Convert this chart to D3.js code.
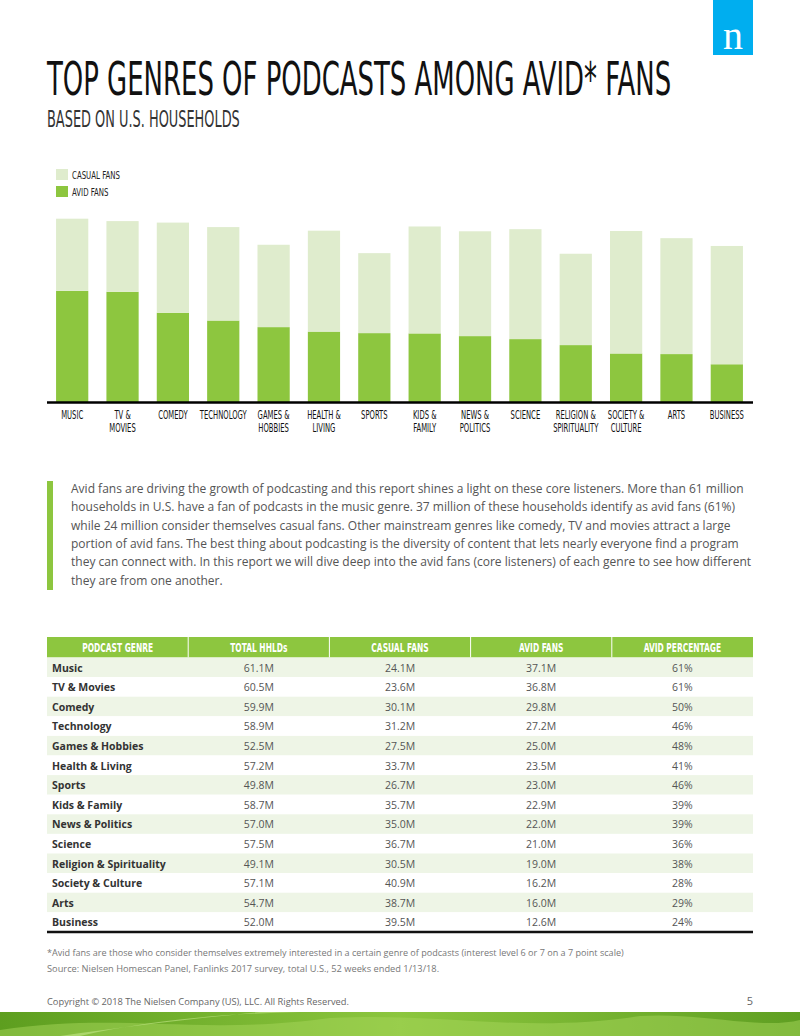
<!DOCTYPE html>
<html>
<head>
<meta charset="utf-8">
<script src="https://cdn.jsdelivr.net/npm/d3@7"></script>
<style>
body { margin: 0; background: #fff; }
</style>
</head>
<body>
<div id="chart"></div>
<script>
var W = 800, H = 1036

// data
var genres = ["Music", "TV & Movies", "Comedy", "Technology", "Games & Hobbies", "Health & Living", "Sports",
  "Kids & Family", "News & Politics", "Science", "Religion & Spirituality", "Society & Culture", "Arts", "Business"]
var axisLabels = [["MUSIC"], ["TV &", "MOVIES"], ["COMEDY"], ["TECHNOLOGY"], ["GAMES &", "HOBBIES"], ["HEALTH &", "LIVING"],
  ["SPORTS"], ["KIDS &", "FAMILY"], ["NEWS &", "POLITICS"], ["SCIENCE"], ["RELIGION &", "SPIRITUALITY"],
  ["SOCIETY &", "CULTURE"], ["ARTS"], ["BUSINESS"]]
var totalHH = [61.1, 60.5, 59.9, 58.9, 52.5, 57.2, 49.8, 58.7, 57.0, 57.5, 49.1, 57.1, 54.7, 52.0]
var casualFans = [24.1, 23.6, 30.1, 31.2, 27.5, 33.7, 26.7, 35.7, 35.0, 36.7, 30.5, 40.9, 38.7, 39.5]
var avidFans = [37.1, 36.8, 29.8, 27.2, 25.0, 23.5, 23.0, 22.9, 22.0, 21.0, 19.0, 16.2, 16.0, 12.6]
var avidPct = [61, 61, 50, 46, 48, 41, 46, 39, 39, 36, 38, 28, 29, 24]
var tableHeaders = ["PODCAST GENRE", "TOTAL HHLDs", "CASUAL FANS", "AVID FANS", "AVID PERCENTAGE"]

var green = "#8dc63f", lightGreen = "#dfeccd", rowGreen = "#eef5e6"
var condensed = "'DejaVu Sans Condensed', 'Liberation Sans Narrow', sans-serif"
var sans = "'Open Sans', sans-serif"

// narrow a group of texts horizontally so that node `ref` ends up `target` px wide
function squeeze(sel, ref, target) {
  var nodes = sel.nodes()
  var k = target / nodes[ref].getBBox().width
  sel.each(function() {
    var t = d3.select(this)
    var x0 = +t.attr("x"), y0 = +t.attr("y")
    t.attr("x", 0).attr("y", 0).attr("transform", "translate(" + x0 + "," + y0 + ") scale(" + k + ",1)")
  })
}

var svg = d3.select("#chart").append("svg")
    .attr("width", W)
    .attr("height", H)

// logo
svg.append("rect").attr("x", 713).attr("y", 0).attr("width", 40).attr("height", 55).attr("fill", "#00aeef")
svg.append("text").attr("x", 733).attr("y", 49).attr("text-anchor", "middle")
    .attr("font-family", "'Liberation Serif', serif").attr("font-size", 40).attr("fill", "#fff").text("n")

// titles
var title = svg.append("text").attr("x", 47).attr("y", 95)
    .attr("font-family", condensed).attr("font-size", 46).attr("fill", "#111")
    .text("TOP GENRES OF PODCASTS AMONG AVID* FANS")
squeeze(title, 0, 625)
var sub = svg.append("text").attr("x", 47).attr("y", 127)
    .attr("font-family", condensed).attr("font-size", 23).attr("fill", "#333")
    .text("BASED ON U.S. HOUSEHOLDS")
squeeze(sub, 0, 193)

// legend
var legendKeys = ["CASUAL FANS", "AVID FANS"]
var legendColors = [lightGreen, green]
svg.append("g").selectAll("rect").data(legendKeys).join("rect")
    .attr("x", 56).attr("y", function(d, i) { return 169 + i * 17 })
    .attr("width", 12).attr("height", 11)
    .attr("fill", function(d, i) { return legendColors[i] })
var legText = svg.append("g").selectAll("text").data(legendKeys).join("text")
    .attr("x", 72).attr("y", function(d, i) { return 179 + i * 17 })
    .attr("font-family", condensed).attr("font-size", 11).attr("fill", "#222")
    .text(function(d) { return d })
squeeze(legText, 0, 48)

// bar chart
var baseY = 402
var x = d3.scaleBand().domain(genres).range([47, 752]).paddingInner(0.36).paddingOuter(0.18)
var y = d3.scaleLinear().domain([0, 61.1]).range([baseY, 219])

var bars = genres.map(function(g, i) { return { g: g, avid: avidFans[i], casual: casualFans[i] } })
var stack = d3.stack().keys(["avid", "casual"])(bars)
var colors = { avid: green, casual: lightGreen }

svg.append("g").selectAll("g").data(stack).join("g")
    .attr("fill", function(s) { return colors[s.key] })
  .selectAll("rect").data(function(s) { return s }).join("rect")
    .attr("x", function(d) { return x(d.data.g) })
    .attr("width", x.bandwidth())
    .attr("y", function(d) { return y(d[1]) })
    .attr("height", function(d) { return y(d[0]) - y(d[1]) })

svg.append("line").attr("x1", 47).attr("x2", 753).attr("y1", baseY + 0.5).attr("y2", baseY + 0.5)
    .attr("stroke", "#000").attr("stroke-width", 2.5)

var lab = svg.append("g").selectAll("text").data(genres).join("text")
    .attr("x", function(d) { return x(d) + x.bandwidth() / 2 })
    .attr("y", 419)
    .attr("text-anchor", "middle")
    .attr("font-family", condensed).attr("font-size", 11.5).attr("fill", "#111")
lab.selectAll("tspan").data(function(d, i) { return axisLabels[i] }).join("tspan")
    .attr("x", 0)
    .attr("dy", function(d, j) { return j === 0 ? 0 : 13.5 })
    .text(function(d) { return d })
squeeze(lab, 3, 48)

// paragraph
svg.append("rect").attr("x", 47).attr("y", 481).attr("width", 6).attr("height", 109).attr("fill", green)
var para = [
  "Avid fans are driving the growth of podcasting and this report shines a light on these core listeners. More than 61 million",
  "households in U.S. have a fan of podcasts in the music genre. 37 million of these households identify as avid fans (61%)",
  "while 24 million consider themselves casual fans. Other mainstream genres like comedy, TV and movies attract a large",
  "portion of avid fans. The best thing about podcasting is the diversity of content that lets nearly everyone find a program",
  "they can connect with. In this report we will dive deep into the avid fans (core listeners) of each genre to see how different",
  "they are from one another."
]
var paraText = svg.append("g").selectAll("text").data(para).join("text")
    .attr("x", 71).attr("y", function(d, i) { return 493 + i * 18.3 })
    .attr("font-family", sans).attr("font-size", 11.8).attr("fill", "#555")
    .text(function(d) { return d })
squeeze(paraText, 0, 673)

// table
var tx = d3.scaleBand().domain(d3.range(5)).range([47, 753])
var rowH = 19.6, headY = 637, headH = 20.5
var ty = d3.scaleBand().domain(genres).range([headY + headH, headY + headH + rowH * genres.length])

svg.append("rect").attr("x", 47).attr("y", headY).attr("width", 706).attr("height", headH).attr("fill", green)
var headText = svg.append("g").selectAll("text").data(tableHeaders).join("text")
    .attr("x", function(d, i) { return tx(i) + tx.bandwidth() / 2 })
    .attr("y", headY + 15)
    .attr("text-anchor", "middle")
    .attr("font-family", condensed).attr("font-size", 12.5).attr("font-weight", "bold").attr("fill", "#fff")
    .text(function(d) { return d })
squeeze(headText, 0, 71)
svg.append("g").selectAll("line").data(d3.range(1, 5)).join("line")
    .attr("x1", function(i) { return tx(i) }).attr("x2", function(i) { return tx(i) })
    .attr("y1", headY).attr("y2", headY + headH)
    .attr("stroke", "#fff").attr("stroke-width", 1)

var rows = svg.append("g").selectAll("g").data(genres).join("g")
    .attr("transform", function(d) { return "translate(0," + ty(d) + ")" })
rows.append("rect").attr("x", 47).attr("width", 706).attr("height", rowH)
    .attr("fill", function(d, i) { return i % 2 === 0 ? rowGreen : "#fff" })
rows.append("text").attr("x", 52).attr("y", 14)
    .attr("font-family", sans).attr("font-size", 10.5).attr("font-weight", "bold").attr("fill", "#333")
    .text(function(d) { return d })
var cells = function(i) {
  return [totalHH[i].toFixed(1) + "M", casualFans[i].toFixed(1) + "M", avidFans[i].toFixed(1) + "M", avidPct[i] + "%"]
}
rows.selectAll("text.v").data(function(d, i) { return cells(i) }).join("text")
    .attr("class", "v")
    .attr("x", function(d, j) { return tx(j + 1) + tx.bandwidth() / 2 })
    .attr("y", 14)
    .attr("text-anchor", "middle")
    .attr("font-family", sans).attr("font-size", 10.5).attr("fill", "#555")
    .text(function(d) { return d })

var tableBottom = headY + headH + rowH * genres.length
svg.append("line").attr("x1", 47).attr("x2", 753).attr("y1", tableBottom).attr("y2", tableBottom)
    .attr("stroke", "#111").attr("stroke-width", 2.5)

// notes
var n1 = svg.append("text").attr("x", 47).attr("y", 956)
    .attr("font-family", sans).attr("font-size", 8.6).attr("fill", "#777")
    .text("*Avid fans are those who consider themselves extremely interested in a certain genre of podcasts (interest level 6 or 7 on a 7 point scale)")
squeeze(n1, 0, 578)
var n2 = svg.append("text").attr("x", 47).attr("y", 972)
    .attr("font-family", sans).attr("font-size", 8.6).attr("fill", "#777")
    .text("Source: Nielsen Homescan Panel, Fanlinks 2017 survey, total U.S., 52 weeks ended 1/13/18.")
squeeze(n2, 0, 392)
var n3 = svg.append("text").attr("x", 47).attr("y", 1005)
    .attr("font-family", sans).attr("font-size", 8.8).attr("fill", "#666")
    .text("Copyright © 2018 The Nielsen Company (US), LLC. All Rights Reserved.")
squeeze(n3, 0, 302)
svg.append("text").attr("x", 753).attr("y", 1005).attr("text-anchor", "end")
    .attr("font-family", sans).attr("font-size", 11).attr("fill", "#666").text("5")

// bottom band
var grad = svg.append("defs").append("linearGradient").attr("id", "band").attr("x1", 0).attr("x2", 1)
grad.append("stop").attr("offset", 0).attr("stop-color", "#5d9e1f")
grad.append("stop").attr("offset", 0.5).attr("stop-color", "#8cc63e")
grad.append("stop").attr("offset", 1).attr("stop-color", "#5f9f22")
svg.append("rect").attr("x", 0).attr("y", 1012).attr("width", W).attr("height", 24).attr("fill", "url(#band)")
svg.append("path").attr("d", "M0,1030 C120,1012 200,1036 330,1018 C450,1012 520,1034 640,1016 C700,1012 760,1030 800,1020 L800,1036 L0,1036 Z")
    .attr("fill", "#a6d65a").attr("opacity", 0.5)
svg.append("path").attr("d", "M80,1036 C150,1020 220,1014 300,1012 L260,1012 C200,1018 130,1026 60,1036 Z")
    .attr("fill", "#c4e88a").attr("opacity", 0.6)
</script>
</body>
</html>
